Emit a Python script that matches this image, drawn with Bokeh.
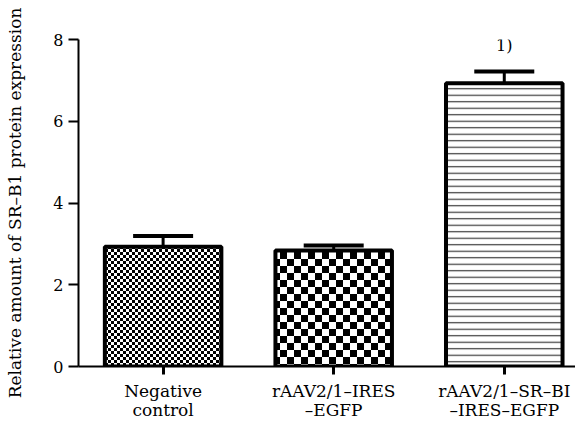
import zlib
import struct
import base64
from bokeh.plotting import figure
from bokeh.models import (Range1d, FixedTicker, Whisker, ColumnDataSource,
                          ImageURLTexture, TeeHead, Label)
from bokeh.embed import file_html
from bokeh.resources import INLINE

# ---- data ----
categories = ["Negative\ncontrol", "rAAV2/1\u2013IRES\n\u2013EGFP", "rAAV2/1\u2013SR\u2013BI\n\u2013IRES\u2013EGFP"]
values = [2.93, 2.84, 6.93]
errors = [0.26, 0.12, 0.29]
y_ticks = [0, 2, 4, 6, 8]
y_label = "Relative amount of SR\u2013B1 protein expression"
sig_text = "1)"
sig_index = 2

positions = list(range(len(categories)))
upper = [v + e for v, e in zip(values, errors)]

SERIF = "DejaVu Serif"


def checker_png(cell):
    """Build a small checkerboard tile as a PNG data URL (texture only)."""
    n = 2 * cell
    raw = b""
    for yy in range(n):
        raw += b"\x00"
        for xx in range(n):
            dark = ((xx // cell) + (yy // cell)) % 2 == 0
            raw += b"\x00\x00\x00\xff" if dark else b"\xff\xff\xff\xff"

    def chunk(tag, data):
        return (struct.pack(">I", len(data)) + tag + data +
                struct.pack(">I", zlib.crc32(tag + data) & 0xffffffff))

    png = (b"\x89PNG\r\n\x1a\n" +
           chunk(b"IHDR", struct.pack(">IIBBBBB", n, n, 8, 6, 0, 0, 0)) +
           chunk(b"IDAT", zlib.compress(raw)) +
           chunk(b"IEND", b""))
    return "data:image/png;base64," + base64.b64encode(png).decode()


extra = {"fine_checker": ImageURLTexture(url=checker_png(3)),
         "coarse_checker": ImageURLTexture(url=checker_png(7))}

p = figure(frame_width=497, frame_height=327, output_backend="svg", toolbar_location=None,
           x_range=Range1d(-0.496, 2.4175), y_range=Range1d(0, 8),
           min_border_left=78, min_border_right=0, min_border_top=39,
           min_border_bottom=45)
p.outline_line_color = None
p.xgrid.visible = False
p.ygrid.visible = False
p.background_fill_color = "white"
p.border_fill_color = "white"

patterns = ["fine_checker", "coarse_checker", "horizontal_line"]
scales = [6, 14, 6.5]
hatch_colors = ["black", "black", "#3a3a3a"]

for i in positions:
    src = ColumnDataSource(dict(x=[positions[i]], top=[values[i]], pat=[patterns[i]]))
    p.vbar(x="x", top="top", bottom=0, width=0.683, source=src,
           fill_color="white", line_color="black", line_width=4,
           hatch_pattern="pat", hatch_scale=scales[i], hatch_color=hatch_colors[i],
           hatch_weight=1.2, hatch_extra=extra)

wsrc = ColumnDataSource(dict(base=positions, lower=values, upper=upper))
w = Whisker(base="base", lower="lower", upper="upper", source=wsrc,
            line_color="black", line_width=3, lower_head=None,
            upper_head=TeeHead(size=60, line_width=4, line_color="black"),
            level="overlay")
p.add_layout(w)

p.add_layout(Label(x=positions[sig_index], y=7.86, text=sig_text, text_align="center",
                   text_baseline="alphabetic", text_font=SERIF, text_font_size="16px",
                   text_color="black"))

# y axis
ya = p.yaxis[0]
ya.ticker = FixedTicker(ticks=y_ticks)
ya.axis_line_width = 2
ya.major_tick_line_width = 2
ya.major_tick_in = 0
ya.major_tick_out = 10
ya.minor_tick_line_color = None
ya.major_label_standoff = 5
ya.major_label_text_font = SERIF
ya.major_label_text_font_size = "16px"
ya.major_label_text_color = "black"
ya.axis_label = y_label
ya.axis_label_text_font = SERIF
ya.axis_label_text_font_style = "normal"
ya.axis_label_text_font_size = "17px"
ya.axis_label_text_color = "black"
ya.axis_label_standoff = 25

# x axis
xa = p.xaxis[0]
xa.ticker = FixedTicker(ticks=positions)
xa.major_label_overrides = {pos: lab for pos, lab in zip(positions, categories)}
xa.axis_line_width = 2
xa.major_tick_line_width = 3
xa.major_tick_in = 0
xa.major_tick_out = 8
xa.minor_tick_line_color = None
xa.major_label_standoff = 6
xa.major_label_text_font = SERIF
xa.major_label_text_font_size = "17px"
xa.major_label_text_color = "black"
xa.major_label_text_line_height = 0.95

open("out.html", "w").write(file_html(p, INLINE))
